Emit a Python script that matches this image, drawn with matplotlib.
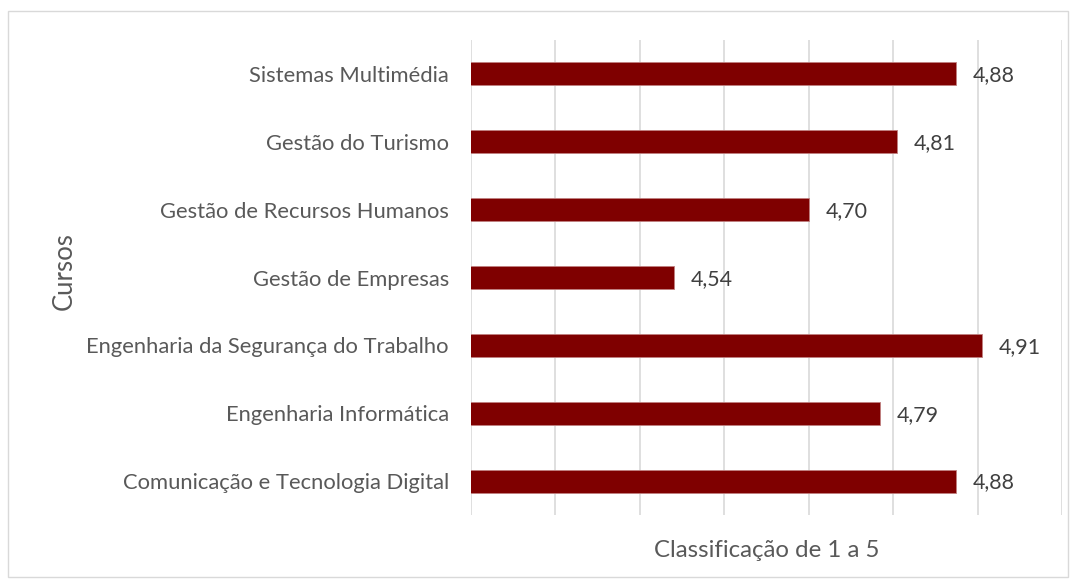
import matplotlib
matplotlib.use("Agg")
import matplotlib.pyplot as plt
from matplotlib.patches import Rectangle

cursos = [
    "Comunicação e Tecnologia Digital",
    "Engenharia Informática",
    "Engenharia da Segurança do Trabalho",
    "Gestão de Empresas",
    "Gestão de Recursos Humanos",
    "Gestão do Turismo",
    "Sistemas Multimédia",
]
valores = [4.875, 4.785, 4.905, 4.54, 4.70, 4.805, 4.875]
rotulos = ["4,88", "4,79", "4,91", "4,54", "4,70", "4,81", "4,88"]

plt.rcParams['font.family'] = ['Lato', 'DejaVu Sans']
txt = "#595959"

fig = plt.figure(figsize=(10.75, 5.8), dpi=100)
ax = fig.add_axes([471/1075, 1 - 515/580, (1062 - 471)/1075, (515 - 40)/580])

y = range(len(cursos))
ax.barh(y, valores, height=0.34, color="#7f0000", edgecolor="#c08080", linewidth=0.6, zorder=3)
ax.set_xlim(4.3, 5.0)
ax.set_ylim(-0.5, len(cursos) - 0.5)
ax.set_xticks([4.3 + 0.1 * i for i in range(8)])
ax.set_xticklabels([])
ax.set_yticks(list(y))
ax.set_yticklabels(cursos, fontsize=15.8, color=txt)
ax.tick_params(axis='both', length=0, pad=16)
ax.grid(axis='x', color="#d9d9d9", linewidth=1.2, zorder=0)
for s in ax.spines.values():
    s.set_visible(False)

for yi, v, r in zip(y, valores, rotulos):
    ax.annotate(r, (v, yi), xytext=(12, -1), textcoords="offset points",
                va="center", ha="left", fontsize=15.4, color="#404040")

ax.set_xlabel("Classificação de 1 a 5", fontsize=17.3, color=txt, labelpad=2)
fig.text(64/1075, 1 - 271/580, "Cursos", rotation=90, fontsize=18.5, color=txt,
         ha="center", va="center")

fig.patches.append(Rectangle((8/1075, 1 - 577/580), (1068 - 8)/1075, (577 - 11)/580,
                             transform=fig.transFigure, fill=False,
                             edgecolor="#d9d9d9", linewidth=1.0))

fig.savefig("out.png", dpi=100)
